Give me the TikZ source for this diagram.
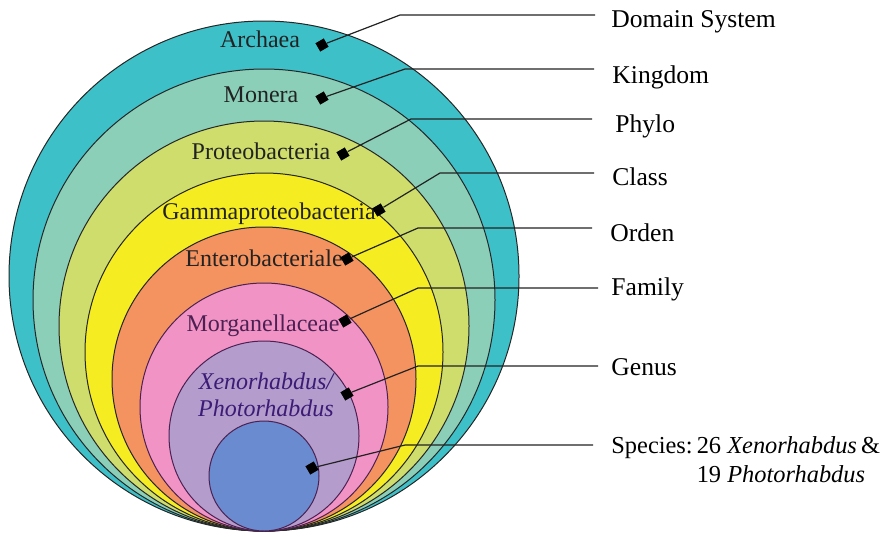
\documentclass[tikz,border=0pt]{standalone}
\usepackage{fontspec}
\setmainfont{Liberation Serif}
\usetikzlibrary{positioning}
\definecolor{archaea}{HTML}{3EC0C9}
\definecolor{monera}{HTML}{8BCFB9}
\definecolor{proteo}{HTML}{CEDD6B}
\definecolor{gamma}{HTML}{F6EC22}
\definecolor{entero}{HTML}{F4935F}
\definecolor{morgan}{HTML}{F293C6}
\definecolor{genus}{HTML}{B49CCC}
\definecolor{species}{HTML}{6B8BD0}
\definecolor{plum}{HTML}{4A2152}
\definecolor{ink}{HTML}{222222}

\begin{document}
\begin{tikzpicture}[x=0.5pt,y=-0.5pt,
    ring/.style={draw=black!85, line width=0.5pt},
    inner ring/.style={draw=plum, line width=0.5pt},
    taxon/.style={anchor=base, inner sep=0pt, font=\fontsize{12}{14}\selectfont, text=ink},
    rank/.style={anchor=base west, inner sep=0pt, font=\fontsize{12.8}{14.5}\selectfont, align=left},
    marker/.style={fill=black, rotate=30, minimum size=4.8pt, inner sep=0pt},
    link/.style={draw=ink, line width=0.6pt}]
      \useasboundingbox (0,0) rectangle (892,536);

      % nested circles, all touching at the bottom
      \draw[ring, fill=archaea] (264,276) circle (255);
      \draw[ring, fill=monera] (264,300) circle (231);
      \draw[ring, fill=proteo] (264,326) circle (205);
      \draw[ring, fill=gamma] (264,352) circle (179);
      \draw[ring, fill=entero] (264,379) circle (152);
      \draw[inner ring, fill=morgan] (264,407) circle (124);
      \draw[inner ring, fill=genus] (264,436) circle (95);
      \draw[inner ring, fill=species] (264,476) circle (55);

      % names inside the circles
      \node[taxon] (archaea) at (260,47) {Archaea};
      \node[taxon] (monera) at (261,102) {Monera};
      \node[taxon] (proteo) at (261,159) {Proteobacteria};
      \node[taxon] (gamma) at (269,219) {Gammaproteobacteria};
      \node[taxon] (entero) at (264,266) {Enterobacteriale};
      \node[taxon, text=plum] (morgan) at (263,331) {Morganellaceae};
      \node[taxon, text=plum!80!blue] (xeno) at (266,389) {\itshape Xenorhabdus/};
      \node[taxon, text=plum!80!blue] (photo) at (266,416) {\itshape Photorhabdus};

      % ranks on the right
      \node[rank] (domain) at (611,27) {Domain System};
      \node[rank] (kingdom) at (612,83) {Kingdom};
      \node[rank] (phylo) at (615,132) {Phylo};
      \node[rank] (class) at (612,185) {Class};
      \node[rank] (orden) at (610,241) {Orden};
      \node[rank] (family) at (611,295) {Family};
      \node[rank] (genus) at (611,375) {Genus};
      \node[rank, font=\fontsize{12.2}{14.5}\selectfont] (species) at (611,482)
        {Species:\,26 \textit{Xenorhabdus}\,\&\\
        \phantom{Species:\,}19 \textit{Photorhabdus}};

      % markers
      \node[marker] (m1) at (322,45) {};
      \node[marker] (m2) at (322,98) {};
      \node[marker] (m3) at (343,154) {};
      \node[marker] (m4) at (379,210) {};
      \node[marker] (m5) at (347,259) {};
      \node[marker] (m6) at (345,321) {};
      \node[marker] (m7) at (347,394) {};
      \node[marker] (m8) at (312,468) {};

      % bends and line ends
      \coordinate (b1) at (400,15);   \coordinate (e1) at (595,15);
      \coordinate (b2) at (405,69);   \coordinate (e2) at (594,69);
      \coordinate (b3) at (411,119);  \coordinate (e3) at (592,119);
      \coordinate (b4) at (440,173);  \coordinate (e4) at (594,173);
      \coordinate (b5) at (418,228);  \coordinate (e5) at (592,228);
      \coordinate (b6) at (418,288);  \coordinate (e6) at (598,288);
      \coordinate (b7) at (418,366);  \coordinate (e7) at (598,366);
      \coordinate (b8) at (405,445);  \coordinate (e8) at (593,445);

      \draw[link] (m1) -- (b1) -- (e1);
      \draw[link] (m2) -- (b2) -- (e2);
      \draw[link] (m3) -- (b3) -- (e3);
      \draw[link] (m4) -- (b4) -- (e4);
      \draw[link] (m5) -- (b5) -- (e5);
      \draw[link] (m6) -- (b6) -- (e6);
      \draw[link] (m7) -- (b7) -- (e7);
      \draw[link] (m8) -- (b8) -- (e8);
    \end{tikzpicture}
\end{document}
